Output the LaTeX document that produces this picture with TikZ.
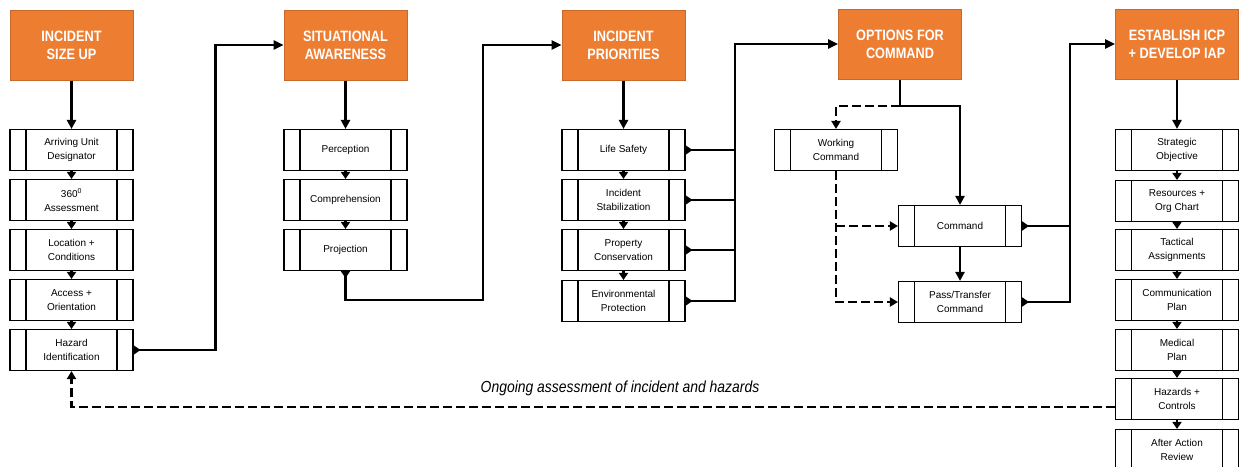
\documentclass[tikz,border=0pt]{standalone}
\usepackage{fontspec}
\setmainfont{Liberation Sans}
\newfontfamily\headfont[FakeStretch=0.85]{Liberation Sans}
\newfontfamily\notefont[FakeStretch=0.87]{Liberation Sans}
\usetikzlibrary{
  positioning,
  arrows.meta,
  calc
}
\definecolor{stage}{HTML}{ED7D31}
\definecolor{stageline}{HTML}{C8682A}

\begin{document}
\begin{tikzpicture}[
  x=1pt, y=-1pt,
  head/.style={draw=stageline, fill=stage, line width=1pt, minimum width=123pt,
               minimum height=70pt, align=center, text=white,
               font=\headfont\bfseries\fontsize{15}{18}\selectfont},
  task/.style={draw, line width=1.1pt, minimum width=123pt, minimum height=41pt,
               align=center, inner sep=0pt, font=\fontsize{10}{14}\selectfont,
               path picture={
                 \draw[line width=1.1pt]
                   ([xshift=16pt]path picture bounding box.north west) --
                   ([xshift=16pt]path picture bounding box.south west)
                   ([xshift=-16pt]path picture bounding box.north east) --
                   ([xshift=-16pt]path picture bounding box.south east);}},
  wire/.style={line width=2.4pt},
  flow/.style={wire, -{Triangle[length=9pt, width=9pt]}},
  link/.style={wire, -{Triangle[length=7pt, width=9pt]}},
  feed/.style={wire, {Triangle[reversed, length=7pt, width=9pt]}-},
  feedflow/.style={wire, {Triangle[reversed, length=7pt, width=9pt]}-{Triangle[length=10pt, width=9pt]}},
  dashwire/.style={wire, dash pattern=on 9pt off 4pt},
  dashflow/.style={dashwire, -{Triangle[length=8pt, width=9pt]}},
  note/.style={font=\notefont\itshape\fontsize{16}{18}\selectfont}
]
  \useasboundingbox (0,0) rectangle (1246,466);

  % size up
  \node[head] (sizeup) at (71.5, 45) {INCIDENT\\SIZE UP};
  \node[task] (arrive) at (71.5, 150) {Arriving Unit\\Designator};
  \node[task] (walkaround) at (71.5, 200) {360\textsuperscript{0}\\Assessment};
  \node[task] (location) at (71.5, 250) {Location +\\Conditions};
  \node[task] (access) at (71.5, 300) {Access +\\Orientation};
  \node[task] (hazid) at (71.5, 350) {Hazard\\Identification};

  % situational awareness
  \node[head] (sitaw) at (345.5, 45) {SITUATIONAL\\AWARENESS};
  \node[task] (perception) at (345.5, 150) {Perception};
  \node[task] (comprehension) at (345.5, 200) {Comprehension};
  \node[task] (projection) at (345.5, 250) {Projection};

  % priorities
  \node[head] (incprio) at (623.5, 45) {INCIDENT\\PRIORITIES};
  \node[task] (lifesafety) at (623.5, 150) {Life Safety};
  \node[task] (stabilize) at (623.5, 200) {Incident\\Stabilization};
  \node[task] (property) at (623.5, 250) {Property\\Conservation};
  \node[task] (envprot) at (623.5, 301) {Environmental\\Protection};

  % command
  \node[head] (options) at (900, 44) {OPTIONS FOR\\COMMAND};
  \node[task] (working) at (836, 150) {Working\\Command};
  \node[task] (command) at (960, 226) {Command};
  \node[task] (passcmd) at (960, 302) {Pass/Transfer\\Command};

  % icp + iap
  \node[head] (establish) at (1177, 44) {ESTABLISH ICP\\+ DEVELOP IAP};
  \node[task] (strategic) at (1177, 150) {Strategic\\Objective};
  \node[task] (resources) at (1177, 201) {Resources +\\Org Chart};
  \node[task] (tactical) at (1177, 250) {Tactical\\Assignments};
  \node[task] (commplan) at (1177, 300) {Communication\\Plan};
  \node[task] (medplan) at (1177, 350) {Medical\\Plan};
  \node[task] (hazctl) at (1177, 399) {Hazards +\\Controls};
  \node[task] (review) at (1177, 450) {After Action\\Review};

  \node[note] (ongoing) at (620, 388) {Ongoing assessment of incident and hazards};

  \coordinate (bus2) at (483, 300);
  \coordinate (bus3) at (735, 0);
  \coordinate (split) at (900, 106);
  \coordinate (bus4) at (1070, 0);

  \foreach \a/\b in {sizeup/arrive, sitaw/perception, incprio/lifesafety, establish/strategic}
    \draw[flow] (\a) -- (\b);
  \foreach \a/\b in {arrive/walkaround, walkaround/location, location/access, access/hazid,
                     perception/comprehension, comprehension/projection,
                     lifesafety/stabilize, stabilize/property, property/envprot,
                     strategic/resources, resources/tactical, tactical/commplan,
                     commplan/medplan, medplan/hazctl, hazctl/review}
    \draw[link] (\a) -- (\b);

  \draw[feedflow] (hazid.east) -- ++(82,0) |- (sitaw.west);
  \draw[feedflow] (projection.south) |- (bus2) |- (incprio.west);

  \foreach \t in {lifesafety, stabilize, property}
    \draw[feed] (\t.east) -- (\t.east -| bus3);
  \draw[feedflow] (envprot.east) -- (envprot.east -| bus3) |- (options.west);

  \draw[wire] (options.south) -- (split);
  \draw[flow] (split) -| (command.north);
  \draw[dashflow] (split) -| (working.north);
  \draw[dashflow] (working.south) |- (passcmd.west);
  \draw[dashflow] (working.south |- command.west) -- (command.west);
  \draw[flow] (command) -- (passcmd);

  \draw[feed] (command.east) -- (command.east -| bus4);
  \draw[feedflow] (passcmd.east) -- (passcmd.east -| bus4) |- (establish.west);

  \draw[dashflow] ([yshift=-8pt]hazctl.west) -| (hazid.south);
\end{tikzpicture}
\end{document}
